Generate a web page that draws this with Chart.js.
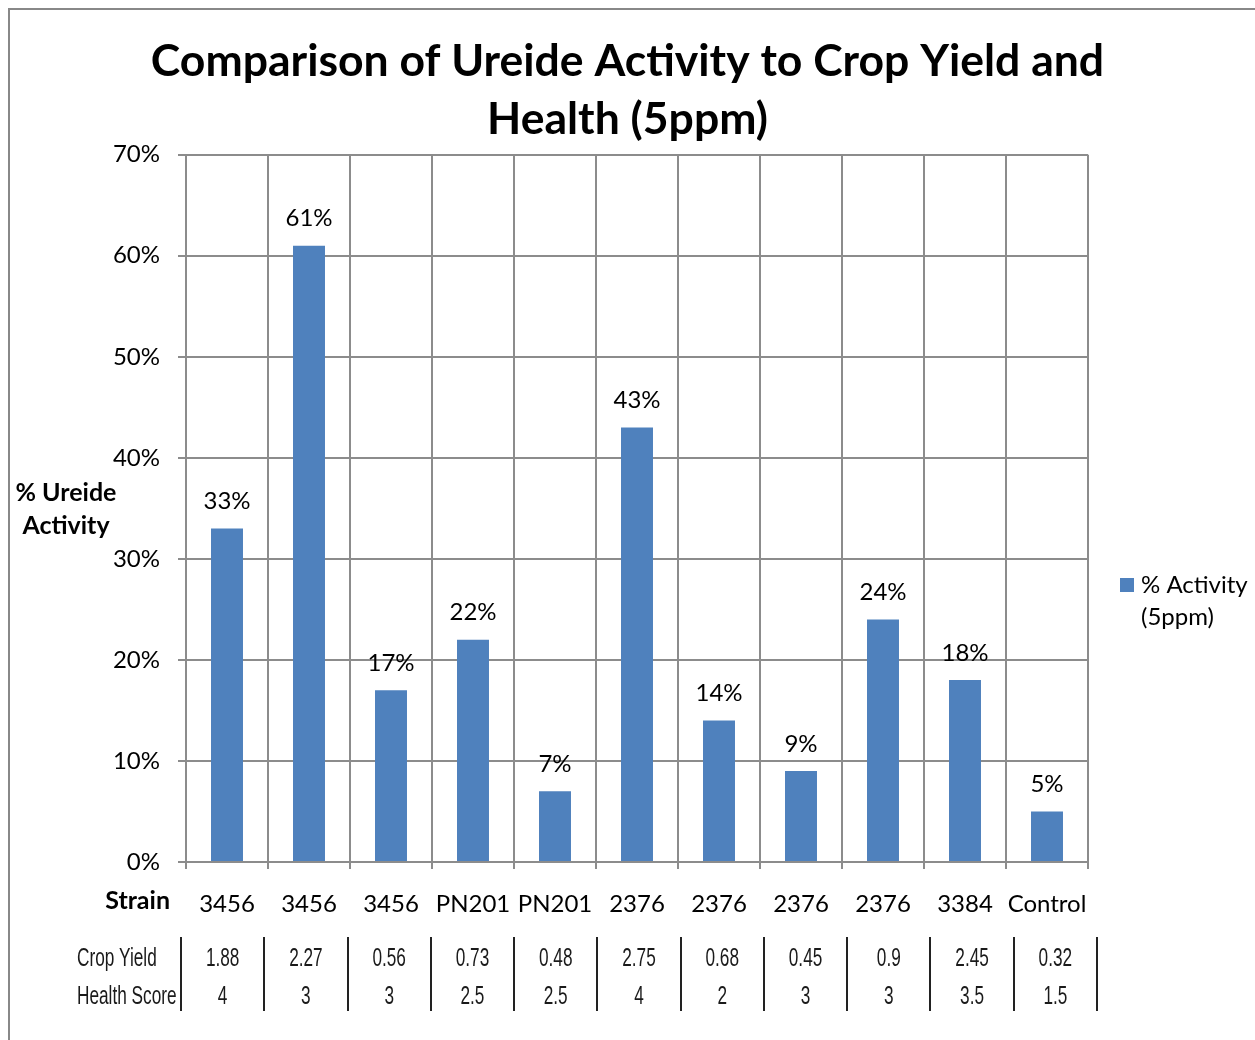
<!DOCTYPE html>
<html><head><meta charset="utf-8">
<script src="https://cdn.jsdelivr.net/npm/chart.js@4.4.0/dist/chart.umd.min.js"></script>
<style>html,body{margin:0;padding:0;background:#fff;} #wrap{width:1255px;height:1040px;position:relative;}</style>
</head><body><div id="wrap"><canvas id="c" width="1255" height="1040"></canvas></div>
<script>
const strains = ['3456','3456','3456','PN201','PN201','2376','2376','2376','2376','3384','Control'];
const activity = [33, 61, 17, 22, 7, 43, 14, 9, 24, 18, 5];
const cropYield = ['1.88','2.27','0.56','0.73','0.48','2.75','0.68','0.45','0.9','2.45','0.32'];
const healthScore = ['4','3','3','2.5','2.5','4','2','3','3','3.5','1.5'];
const yMin = 0, yMax = 70, yStep = 10;
const titleLines = ['Comparison of Ureide Activity to Crop Yield and', 'Health (5ppm)'];
const yTitleLines = ['% Ureide', 'Activity'];
const legendLines = ['% Activity', '(5ppm)'];
const xTitle = 'Strain';
const rowLabels = ['Crop Yield', 'Health Score'];

const FONT = 'Lato, "Open Sans", sans-serif';
const BLUE = '#4F81BD';
const GRID = '#8c8c8c';

const extras = {
  id: 'extras',
  beforeDraw(chart) {
    const ctx = chart.ctx;
    ctx.save();
    ctx.fillStyle = '#fff';
    ctx.fillRect(0, 0, chart.width, chart.height);
    ctx.strokeStyle = '#888';
    ctx.lineWidth = 2;
    ctx.strokeRect(9, 9, chart.width + 20, chart.height + 20);
    ctx.restore();
  },
  afterDraw(chart) {
    const ctx = chart.ctx;
    const area = chart.chartArea;
    const meta = chart.getDatasetMeta(0);
    ctx.save();
    ctx.fillStyle = '#000';
    ctx.textAlign = 'center';
    ctx.textBaseline = 'middle';
    // data labels
    ctx.font = `24px ${FONT}`;
    meta.data.forEach((bar, i) => {
      ctx.fillText(activity[i] + '%', bar.x, bar.y - 27);
    });
    // y axis title
    ctx.font = `bold 25px ${FONT}`;
    yTitleLines.forEach((t, i) => ctx.fillText(t, 66, 493 + i * 33));
    // x title
    ctx.textAlign = 'right';
    ctx.fillText(xTitle, 170, 901);
    // legend
    const lx = area.right + 32, ly = 585;
    ctx.fillStyle = BLUE;
    ctx.fillRect(lx, ly - 7, 14, 14);
    ctx.fillStyle = '#000';
    ctx.textAlign = 'left';
    ctx.font = `24px ${FONT}`;
    legendLines.forEach((t, i) => ctx.fillText(t, lx + 21, ly + i * 32));
    // data table
    const n = strains.length;
    const tLeft = area.left - 5;
    const step = (area.width * 1.0155) / n;
    const rowY = [959, 997];
    ctx.strokeStyle = '#222';
    ctx.lineWidth = 2;
    for (let i = 0; i <= n; i++) {
      const xx = Math.round(tLeft + i * step);
      ctx.beginPath();
      ctx.moveTo(xx, 937);
      ctx.lineTo(xx, 1011);
      ctx.stroke();
    }
    const drawNarrow = (text, x, y, align) => {
      ctx.save();
      ctx.translate(x, y);
      ctx.scale(0.82, 1.27);
      ctx.textAlign = align;
      ctx.font = `21px "Liberation Sans", Arial, sans-serif`;
      ctx.fillStyle = '#1a1a1a';
      ctx.fillText(text, 0, 0);
      ctx.restore();
    };
    rowLabels.forEach((t, r) => drawNarrow(t, 77, rowY[r], 'left'));
    for (let i = 0; i < n; i++) {
      const cx = tLeft + (i + 0.5) * step;
      drawNarrow(cropYield[i], cx, rowY[0], 'center');
      drawNarrow(healthScore[i], cx, rowY[1], 'center');
    }
    ctx.restore();
  }
};

new Chart(document.getElementById('c'), {
  type: 'bar',
  data: {
    labels: strains,
    datasets: [{
      label: legendLines.join(' '),
      data: activity,
      backgroundColor: BLUE,
      borderWidth: 0,
      categoryPercentage: 1,
      barPercentage: 0.39
    }]
  },
  options: {
    responsive: false,
    animation: false,
    devicePixelRatio: 1,
    layout: { padding: 0 },
    plugins: {
      legend: { display: false },
      tooltip: { enabled: false },
      title: {
        display: true,
        text: titleLines,
        color: '#000',
        font: { family: FONT, size: 44.5, weight: 'bold', lineHeight: 1.3 },
        padding: { top: 33, bottom: 6 }
      }
    },
    scales: {
      x: {
        grid: { color: GRID, lineWidth: 2, tickLength: 7, offset: true },
        border: { color: GRID, width: 2 },
        ticks: { color: '#000', font: { family: FONT, size: 24 }, padding: 21, maxRotation: 0, autoSkip: false },
        afterFit(s) { s.height = 178; }
      },
      y: {
        min: yMin, max: yMax,
        grid: { color: GRID, lineWidth: 2, tickLength: 8 },
        border: { color: GRID, width: 2 },
        ticks: { stepSize: yStep, color: '#000', font: { family: FONT, size: 24 }, padding: 18,
                 callback: v => v + '%' },
        afterFit(s) { s.width = 186; }
      },
      legendSpace: {
        type: 'linear',
        position: 'right',
        display: true,
        grid: { display: false, drawOnChartArea: false },
        border: { display: false },
        ticks: { display: false },
        afterFit(s) { s.width = 167; }
      }
    }
  },
  plugins: [extras]
});
</script>
</body></html>
